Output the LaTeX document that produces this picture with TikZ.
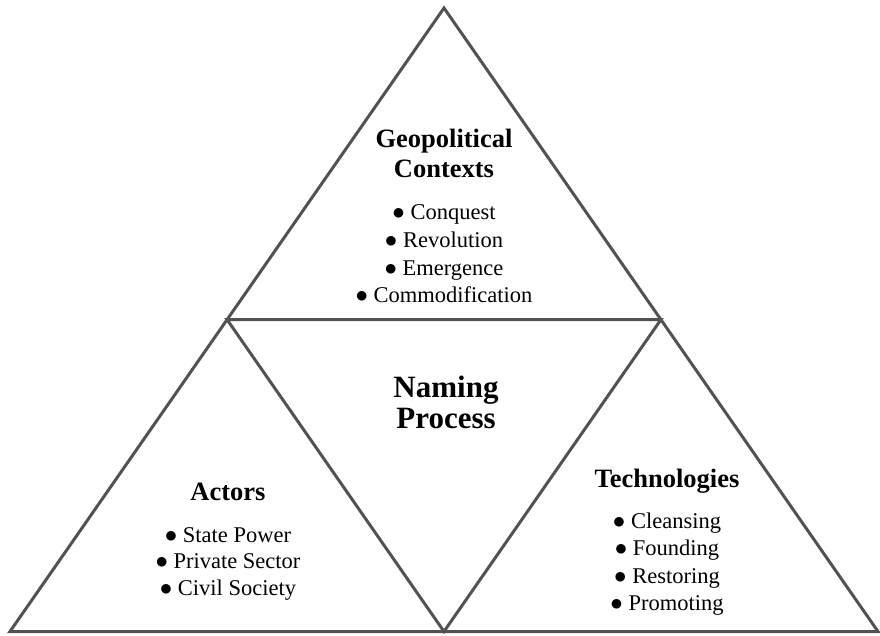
\documentclass[tikz,border=0pt]{standalone}
\usepackage{fontspec}
\setmainfont{Liberation Serif}
\newcommand{\bul}{{\fontsize{24.5}{25}\selectfont$\bullet$}\hspace{0.25em}}
\begin{document}
\begin{tikzpicture}[x=1pt,y=-1pt,
  edge/.style={draw=black!68,line width=3pt,line join=miter,line cap=butt},
  head/.style={anchor=base,inner sep=0pt,font=\fontsize{26.5}{28}\selectfont\bfseries},
  big/.style={anchor=base,inner sep=0pt,font=\fontsize{31}{33}\selectfont\bfseries},
  item/.style={anchor=base,inner sep=0pt,font=\fontsize{22.5}{24}\selectfont}]
\useasboundingbox (0,0) rectangle (880,636);
\coordinate (A) at (444,8);
\coordinate (L) at (10,631.5);
\coordinate (R) at (878,631.5);
\coordinate (ML) at (227,319.5);
\coordinate (MR) at (661,319.5);
\coordinate (MB) at (444,631.5);
\draw[edge] (A) -- (R) -- (L) -- cycle;
\draw[edge] (ML) -- (MR) -- (MB) -- cycle;
% top
\node[head] (g1) at (444,148) {Geopolitical};
\node[head] (g2) at (444,178) {Contexts};
\node[item] (g3) at (444,220) {\bul Conquest};
\node[item] (g4) at (444,247.5) {\bul Revolution};
\node[item] (g5) at (444,275) {\bul Emergence};
\node[item] (g6) at (444,302) {\bul Commodification};
% centre
\node[big] (n1) at (446,397) {Naming};
\node[big] (n2) at (446,428) {Process};
% left
\node[head] (a1) at (228,500) {Actors};
\node[item] (a2) at (228,542) {\bul State Power};
\node[item] (a3) at (228,568.5) {\bul Private Sector};
\node[item] (a4) at (228,595) {\bul Civil Society};
% right
\node[head] (t1) at (667,487) {Technologies};
\node[item] (t2) at (667,528) {\bul Cleansing};
\node[item] (t3) at (667,555.5) {\bul Founding};
\node[item] (t4) at (667,583) {\bul Restoring};
\node[item] (t5) at (667,610) {\bul Promoting};
\end{tikzpicture}
\end{document}
